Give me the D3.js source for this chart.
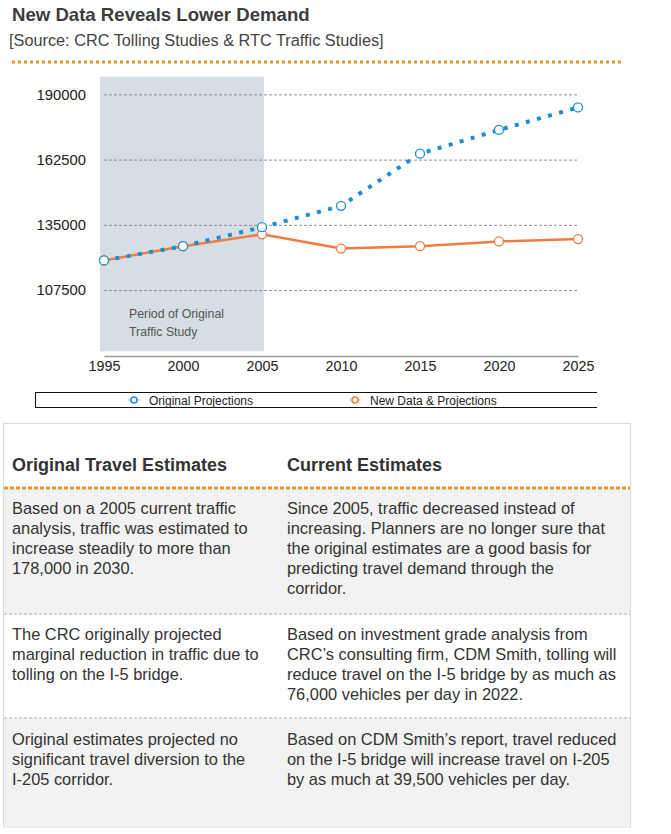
<!DOCTYPE html>
<html>
<head>
<meta charset="utf-8">
<script src="https://cdn.jsdelivr.net/npm/d3@7"></script>
<style>
  html, body { margin: 0; padding: 0; background: #fff; }
  svg { display: block; font-family: "Liberation Sans", Arial, Helvetica, sans-serif; }
</style>
</head>
<body>
<svg id="chart" width="671" height="834"></svg>
<script>
// ---------- data ----------
const years = [1995, 2000, 2005, 2010, 2015, 2020, 2025];
const originalProjections = [120000, 126000, 134000, 143000, 165000, 175000, 184500];
const newDataProjections = [120000, 126000, 131000, 125000, 126000, 128000, 129000];
const yTicks = [107500, 135000, 162500, 190000];
const xTicks = [1995, 2000, 2005, 2010, 2015, 2020, 2025];
const seriesNames = ["Original Projections", "New Data & Projections"];
const studyPeriod = [1995, 2005];
const studyLabel = ["Period of Original", "Traffic Study"];
const titleText = "New Data Reveals Lower Demand";
const sourceText = "[Source: CRC Tolling Studies & RTC Traffic Studies]";
const tableHeaders = ["Original Travel Estimates", "Current Estimates"];
const tableRows = [
  [["Based on a 2005 current traffic", "analysis, traffic was estimated to", "increase steadily to more than", "178,000 in 2030."],
   ["Since 2005, traffic decreased instead of", "increasing. Planners are no longer sure that", "the original estimates are a good basis for", "predicting travel demand through the", "corridor."]],
  [["The CRC originally projected", "marginal reduction in traffic due to", "tolling on the I-5 bridge."],
   ["Based on investment grade analysis from", "CRC\u2019s consulting firm, CDM Smith, tolling will", "reduce travel on the I-5 bridge by as much as", "76,000 vehicles per day in 2022."]],
  [["Original estimates projected no", "significant travel diversion to the", "I-205 corridor."],
   ["Based on CDM Smith\u2019s report, travel reduced", "on the I-5 bridge will increase travel on I-205", "by as much at 39,500 vehicles per day."]]
];

// ---------- styles ----------
const BLUE = "#1a8fcf";
const ORANGE = "#ef7d43";
const GOLD = "#eb942b";
const TEXT = "#333";

const svg = d3.select("#chart");

// ---------- header ----------
svg.append("text").attr("x", 12).attr("y", 21)
  .attr("font-size", 18.6).attr("font-weight", "bold").attr("fill", "#3d3d3d")
  .text(titleText);
svg.append("text").attr("x", 9).attr("y", 46)
  .attr("font-size", 16.3).attr("fill", "#444")
  .text(sourceText);
svg.append("line").attr("x1", 12).attr("x2", 621).attr("y1", 62).attr("y2", 62)
  .attr("stroke", GOLD).attr("stroke-width", 3).attr("stroke-dasharray", "3,3");

// ---------- chart ----------
const x = d3.scaleLinear().domain([1995, 2025]).range([104, 578]);
const y = d3.scaleLinear().domain([80000, 197500]).range([355.3, 76.6]);

// shaded study period
svg.append("rect")
  .attr("x", x(studyPeriod[0]) - 4)
  .attr("y", y(197500))
  .attr("width", x(studyPeriod[1]) - x(studyPeriod[0]) + 6)
  .attr("height", y(80000) - y(197500) - 4)
  .attr("fill", "#d6dde4");

// gridlines
const grid = svg.append("g")
  .call(d3.axisLeft(y).tickValues(yTicks).tickSize(-(x(2025) - x(1995))).tickFormat(""))
  .attr("transform", `translate(${x(1995)},0)`);
grid.select(".domain").remove();
grid.selectAll(".tick line").attr("stroke", "#777").attr("stroke-width", 0.8).attr("stroke-dasharray", "3,2");

// y tick labels
const yAxis = svg.append("g").attr("transform", `translate(86,0)`)
  .call(d3.axisLeft(y).tickValues(yTicks).tickSize(0).tickPadding(0).tickFormat(d3.format("d")));
yAxis.select(".domain").remove();
yAxis.selectAll("text").attr("font-size", 14.8).attr("fill", "#222")
  .attr("font-family", "'Liberation Sans', Arial, sans-serif");

// x axis
const xAxis = svg.append("g").attr("transform", `translate(0,356)`)
  .call(d3.axisBottom(x).tickValues(xTicks).tickSize(0).tickPadding(5).tickFormat(d3.format("d")));
xAxis.select(".domain").attr("stroke", "#999").attr("stroke-width", 1.5);
xAxis.selectAll("text").attr("font-size", 14.3).attr("fill", "#222")
  .attr("font-family", "'Liberation Sans', Arial, sans-serif");

// study label
svg.append("text").attr("x", 129).attr("y", 318)
  .attr("font-size", 12.3).attr("fill", "#555")
  .selectAll("tspan").data(studyLabel).join("tspan")
  .attr("x", 129).attr("dy", (d, i) => i === 0 ? 0 : 17.5)
  .text(d => d);

// lines
const line = d3.line().x(d => x(d[0])).y(d => y(d[1]));
const orangePts = years.map((yr, i) => [yr, newDataProjections[i]]);
const bluePts = years.map((yr, i) => [yr, originalProjections[i]]);

svg.append("path").datum(orangePts).attr("d", line)
  .attr("fill", "none").attr("stroke", ORANGE).attr("stroke-width", 2.5);
svg.append("g").selectAll("circle").data(orangePts).join("circle")
  .attr("cx", d => x(d[0])).attr("cy", d => y(d[1])).attr("r", 4.5)
  .attr("fill", "#fff").attr("stroke", ORANGE).attr("stroke-width", 1.3);

svg.append("path").datum(bluePts).attr("d", line)
  .attr("fill", "none").attr("stroke", BLUE).attr("stroke-width", 4)
  .attr("stroke-dasharray", "4,7.5");
svg.append("g").selectAll("circle").data(bluePts).join("circle")
  .attr("cx", d => x(d[0])).attr("cy", d => y(d[1])).attr("r", 4.5)
  .attr("fill", "#fff").attr("stroke", BLUE).attr("stroke-width", 1.3);

// legend
const lg = svg.append("g");
lg.append("line").attr("x1", 35).attr("x2", 597).attr("y1", 392.5).attr("y2", 392.5).attr("stroke", "#111").attr("stroke-width", 1);
lg.append("line").attr("x1", 35).attr("x2", 597).attr("y1", 407.5).attr("y2", 407.5).attr("stroke", "#111").attr("stroke-width", 1);
lg.append("line").attr("x1", 35.5).attr("x2", 35.5).attr("y1", 392.5).attr("y2", 407.5).attr("stroke", "#111").attr("stroke-width", 1);
const legendItems = [
  { name: seriesNames[0], color: BLUE, mx: 134, tx: 149 },
  { name: seriesNames[1], color: ORANGE, mx: 355, tx: 370 }
];
legendItems.forEach(it => {
  lg.append("line").attr("x1", it.mx - 6).attr("x2", it.mx + 6).attr("y1", 400).attr("y2", 400)
    .attr("stroke", it.color).attr("stroke-width", 1.5).attr("opacity", 0.35);
  lg.append("circle").attr("cx", it.mx).attr("cy", 400).attr("r", 3)
    .attr("fill", "#fff").attr("stroke", it.color).attr("stroke-width", 1.6);
  lg.append("text").attr("x", it.tx).attr("y", 404.5).attr("font-size", 12).attr("fill", "#222").text(it.name);
});

// ---------- table ----------
const tbl = svg.append("g");
const rowTops = [488, 614, 718];
const rowBottoms = [614, 718, 827];
const rowFill = ["#f2f2f2", "#ffffff", "#f2f2f2"];
tbl.append("rect").attr("x", 3.5).attr("y", 423.5).attr("width", 627).attr("height", 403.5)
  .attr("fill", "#fff").attr("stroke", "#d9d9d9").attr("stroke-width", 1);
rowTops.forEach((t, i) => {
  tbl.append("rect").attr("x", 4).attr("y", t).attr("width", 626).attr("height", rowBottoms[i] - t - (i === 2 ? 0.5 : 0))
    .attr("fill", rowFill[i]);
});
[614, 718].forEach(yy => {
  tbl.append("line").attr("x1", 4).attr("x2", 630).attr("y1", yy).attr("y2", yy)
    .attr("stroke", "#c8c8c8").attr("stroke-width", 1.5).attr("stroke-dasharray", "3,2");
});
tbl.append("line").attr("x1", 4).attr("x2", 630).attr("y1", 488).attr("y2", 488)
  .attr("stroke", GOLD).attr("stroke-width", 3).attr("stroke-dasharray", "4,2");

const colX = [12, 287];
tableHeaders.forEach((h, i) => {
  tbl.append("text").attr("x", colX[i]).attr("y", 471).attr("font-size", 18)
    .attr("font-weight", "bold").attr("fill", "#333").text(h);
});
const firstBaseline = [514, 640, 745];
tableRows.forEach((row, r) => {
  row.forEach((lines, c) => {
    tbl.append("text").attr("x", colX[c]).attr("y", firstBaseline[r]).attr("font-size", 16.4).attr("fill", TEXT)
      .selectAll("tspan").data(lines).join("tspan")
      .attr("x", colX[c]).attr("dy", (d, i) => i === 0 ? 0 : 20).text(d => d);
  });
});
</script>
</body>
</html>
